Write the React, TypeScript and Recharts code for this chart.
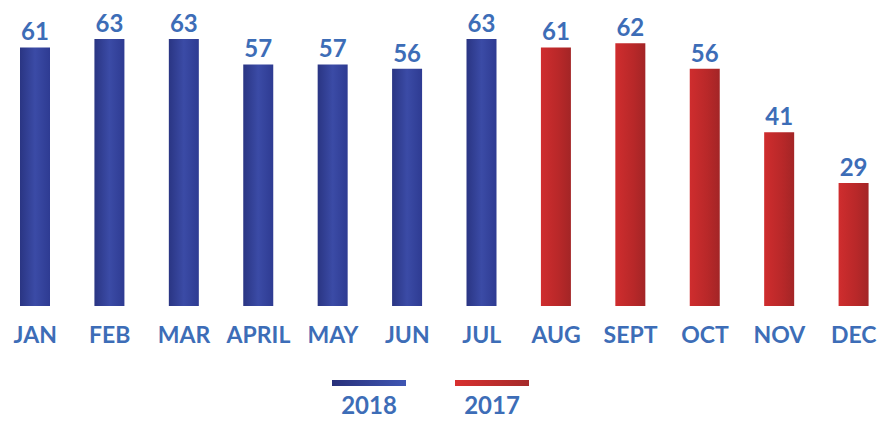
import React from "react";
import { BarChart, Bar, XAxis, YAxis, Cell, LabelList } from "recharts";

const months2018 = ["JAN", "FEB", "MAR", "APRIL", "MAY", "JUN", "JUL"];
const values2018 = [61, 63, 63, 57, 57, 56, 63];
const months2017 = ["AUG", "SEPT", "OCT", "NOV", "DEC"];
const values2017 = [61, 62, 56, 41, 29];
const seriesNames = ["2018", "2017"];

const TEXT = "#3d6db7";
const FONT = "Lato, 'Open Sans', sans-serif";

const data = [
  ...months2018.map((m, i) => ({ month: m, value: values2018[i], year: seriesNames[0] })),
  ...months2017.map((m, i) => ({ month: m, value: values2017[i], year: seriesNames[1] })),
];

export default function App() {
  return (
    <div style={{ position: "absolute", left: 0, top: 0, width: 885, height: 423, background: "#fff", fontFamily: FONT, overflow: "hidden" }}>
      <BarChart width={885} height={423} data={data} margin={{ top: 39, right: -6, left: -2, bottom: 0 }}>
        <defs>
          <linearGradient id="gBlue" x1="0" y1="0" x2="1" y2="0">
            <stop offset="0%" stopColor="#2a3583" />
            <stop offset="50%" stopColor="#3b4ba6" />
            <stop offset="100%" stopColor="#2e3b92" />
          </linearGradient>
          <linearGradient id="gRed" x1="0" y1="0" x2="1" y2="0">
            <stop offset="0%" stopColor="#cf2d2e" />
            <stop offset="60%" stopColor="#b82829" />
            <stop offset="100%" stopColor="#a32526" />
          </linearGradient>
        </defs>
        <YAxis hide domain={[0, 63]} />
        <XAxis
          dataKey="month"
          axisLine={false}
          tickLine={false}
          height={117}
          interval={0}
          tickMargin={15}
          tick={{ fill: TEXT, fontSize: 23, fontWeight: 700, fontFamily: FONT }}
        />
        <Bar dataKey="value" barSize={30} isAnimationActive={false}>
          {data.map((d, i) => (
            <Cell key={i} fill={d.year === seriesNames[0] ? "url(#gBlue)" : "url(#gRed)"} />
          ))}
          <LabelList
            dataKey="value"
            position="top"
            offset={7}
            fill={TEXT}
            style={{ fontSize: 24, fontWeight: 700, fontFamily: FONT }}
          />
        </Bar>
      </BarChart>
      <div style={{ position: "absolute", left: 332, top: 380, display: "flex", gap: 49 }}>
        {seriesNames.map((name, i) => (
          <div key={name} style={{ width: 74, display: "flex", flexDirection: "column", alignItems: "center" }}>
            <div
              style={{
                width: 74,
                height: 6,
                background:
                  i === 0
                    ? "linear-gradient(90deg, #28307a, #3f56b3)"
                    : "linear-gradient(90deg, #d8302f, #a52a2a)",
              }}
            />
            <div style={{ color: TEXT, fontSize: 24, fontWeight: 700, marginTop: 6, lineHeight: "26px" }}>{name}</div>
          </div>
        ))}
      </div>
    </div>
  );
}
